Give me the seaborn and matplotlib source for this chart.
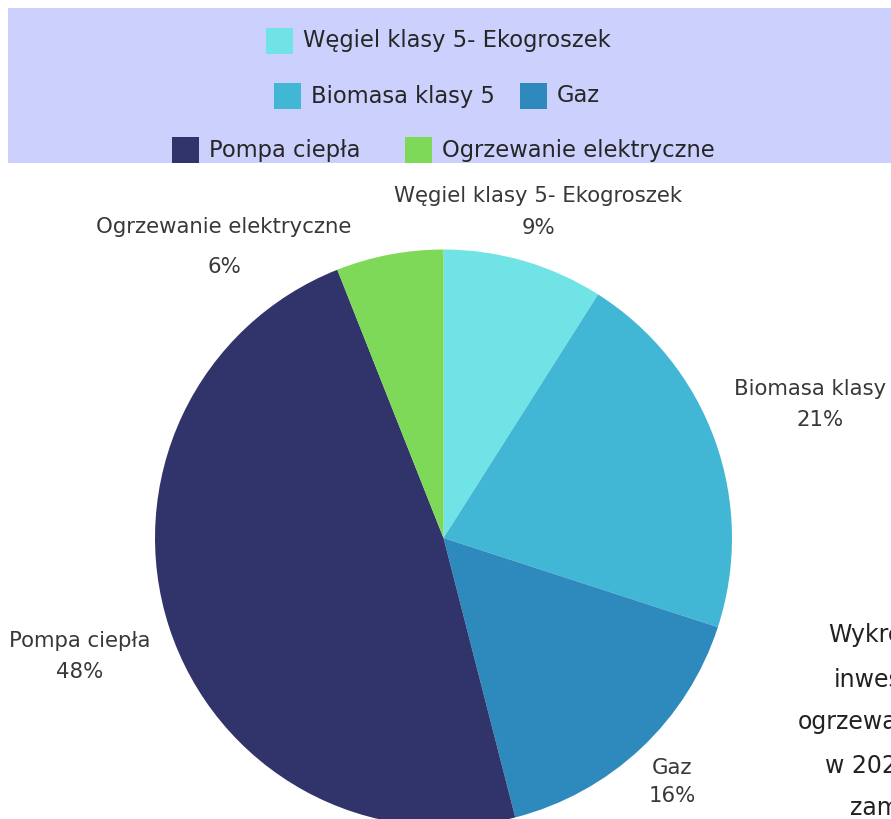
import matplotlib
matplotlib.use("Agg")
import matplotlib.pyplot as plt
from matplotlib.patches import Rectangle
import seaborn as sns

# Data
categories = ["Węgiel klasy 5- Ekogroszek", "Biomasa klasy 5", "Gaz",
              "Pompa ciepła", "Ogrzewanie elektryczne"]
shares = [9, 21, 16, 48, 6]
colors = ["#6fe3e6", "#42b7d5", "#2e8abc", "#31346a", "#7dd957"]

# legend rows (indices into categories)
legend_rows = [[0], [1, 2], [3, 4]]

# side note, cut off by the right edge in the original
side_note = ["Wykres", "inwestycji", "ogrzewania", "w 2023", "zamiany"]

sns.set_theme(style="white")
plt.rcParams["font.family"] = ["DejaVu Sans"]

W, H = 891, 819
fig = plt.figure(figsize=(W / 100, H / 100), dpi=100)
ax = fig.add_axes([0, 0, 1, 1])


def Y(y):
    # pixel row (from top) -> data y
    return H - y


# legend background
ax.add_patch(Rectangle((8, Y(163)), 900, 155, facecolor="#cbd1fc",
                       edgecolor="none", zorder=0))

leg_fs = 16.3
row_y = [41, 96, 150]
square_x = [[266], [274, 520], [172, 405]]
for r, idxs in enumerate(legend_rows):
    for x, i in zip(square_x[r], idxs):
        ax.add_patch(Rectangle((x, Y(row_y[r] + 13)), 27, 26,
                               facecolor=colors[i], edgecolor="none"))
        ax.text(x + 37, Y(row_y[r]), categories[i], fontsize=leg_fs,
                color="#262626", va="center", ha="left")

# pie
wedges, _ = ax.pie(shares, colors=colors, startangle=90, counterclock=False,
                   center=(443.5, Y(538)), radius=288.5,
                   wedgeprops=dict(linewidth=0))

# slice labels (name line, then percent line below)
label_pos = [(538, 196), (820, 389), (672, 768), (80, 641), (224, 227)]
line_gap = [32, 31, 28, 31, 40]
lab_fs = 15.3
for (lx, ly), g, name, v in zip(label_pos, line_gap, categories, shares):
    ax.text(lx, Y(ly), name, fontsize=lab_fs, color="#383838",
            ha="center", va="center")
    ax.text(lx, Y(ly + g), f"{v}%", fontsize=lab_fs, color="#383838",
            ha="center", va="center")

# side note
note_y = [635, 680, 722, 766, 808]
note_x = [872, 892, 866, 868, 900]
for t, nx, ny in zip(side_note, note_x, note_y):
    ax.text(nx, Y(ny), t, fontsize=17, color="#222222",
            ha="center", va="center")

ax.set_xlim(0, W)
ax.set_ylim(0, H)
ax.set_aspect("equal")
ax.axis("off")

fig.savefig("out.png", dpi=100, facecolor="white")
